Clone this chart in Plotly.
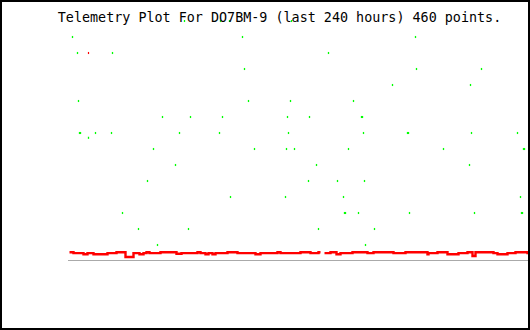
import plotly.graph_objects as go

TITLE = "Telemetry Plot For DO7BM-9 (last 240 hours) 460 points."
N_POINTS = 460

# Green series: sample index and value (integer levels)
green_x = [116, 152, 161, 223,
           4, 174, 347,
           9, 44, 260,
           176, 348, 413,
           324, 402,
           10, 180, 222, 285,
           94, 122, 154, 219, 241, 293, 294,
           11, 12, 27, 43, 111, 151, 220, 295, 339, 340, 403, 449,
           20,
           85, 186, 218, 226, 280, 375, 455, 456,
           107, 248, 401,
           79, 240, 269, 296,
           162, 217, 275, 452,
           54, 276, 277, 290, 341, 406, 453, 454,
           70, 120, 250, 306,
           89, 297]
green_y = [15, 15, 15, 15,
           14, 14, 14,
           13, 13, 13,
           12, 12, 12,
           11, 11,
           10, 10, 10, 10,
           9, 9, 9, 9, 9, 9, 9,
           8, 8, 8, 8, 8, 8, 8, 8, 8, 8, 8, 8,
           7.7,
           7, 7, 7, 7, 7, 7, 7, 7,
           6, 6, 6,
           5, 5, 5, 5,
           4, 4, 4, 4,
           3, 3, 3, 3, 3, 3, 3, 3,
           2, 2, 2, 2,
           1, 1]

# Red series: step change points (index, value); None marks a gap
red_x = [1, 5, 15, 19, 25, 39, 48, 57, 65, 71,
         75, 78, 81, 92, 108, 113, 129, 132, 137, 140,
         144, 147, 159, 169, 187, 192, 209, 212, 232, 242,
         250, 252, 252, 256, 262, 268, 272, 284, 299, 305,
         325, 337, 359, 360, 369, 379, 390, 399, 404, 407,
         425, 429, 439, 447, 459, 460]
red_y = [0.55, 0.49, 0.42, 0.49, 0.42, 0.49, 0.55, 0.25, 0.49, 0.42,
         0.49, 0.55, 0.49, 0.55, 0.45, 0.49, 0.55, 0.49, 0.42, 0.49,
         0.42, 0.49, 0.55, 0.49, 0.42, 0.49, 0.55, 0.49, 0.55, 0.49,
         0.55, 0.55, None, 0.49, 0.55, 0.42, 0.49, 0.55, 0.49, 0.55,
         0.49, 0.55, 0.42, 0.49, 0.55, 0.42, 0.49, 0.55, 0.31, 0.55,
         0.49, 0.42, 0.49, 0.55, 0.49, 0.49]
red_out_x = [20]
red_out_y = [13]

W, H = 530, 330
L, R, T, B = 68, 2, 20, 69
PW, PH = W - L - R, H - T - B
YMAX = PH / 16.0

fig = go.Figure()
fig.add_trace(go.Scatter(x=red_x, y=red_y, mode="lines", line=dict(color="#ff0000", width=2.4, shape="hv"),
                         connectgaps=False, hoverinfo="skip"))
fig.add_trace(go.Scatter(x=red_out_x, y=red_out_y, mode="markers",
                         marker=dict(symbol="line-ns", size=1.5, color="#ff0000",
                                     line=dict(color="#ff0000", width=1.2)), hoverinfo="skip"))
fig.add_trace(go.Scatter(x=green_x, y=green_y, mode="markers",
                         marker=dict(symbol="line-ns", size=1.5, color="#00ff00",
                                     line=dict(color="#00ff00", width=1.3)), hoverinfo="skip"))

fig.update_layout(
    width=W, height=H,
    margin=dict(l=L, r=R, t=T, b=B, pad=0),
    paper_bgcolor="white", plot_bgcolor="white",
    showlegend=False,
    title=dict(text=TITLE, x=279.5 / W, xanchor="center", y=1 - 17.0 / H, yanchor="middle",
               font=dict(family="DejaVu Sans Mono", size=13.4, color="black")),
    xaxis=dict(range=[-0.5, N_POINTS - 0.5], visible=False, fixedrange=True),
    yaxis=dict(range=[0, YMAX], visible=False, fixedrange=True),
    shapes=[
        dict(type="line", xref="paper", yref="y", x0=0, x1=1, y0=0, y1=0,
             line=dict(color="#aaaaaa", width=2), layer="below"),
        dict(type="rect", xref="paper", yref="paper",
             x0=(1 - L) / PW, x1=(W - 1 - L) / PW,
             y0=(PH - (H - 1 - T)) / PH, y1=(PH + T - 1) / PH,
             line=dict(color="black", width=2)),
    ],
)

fig.write_html("out.html", config={"displayModeBar": False})
